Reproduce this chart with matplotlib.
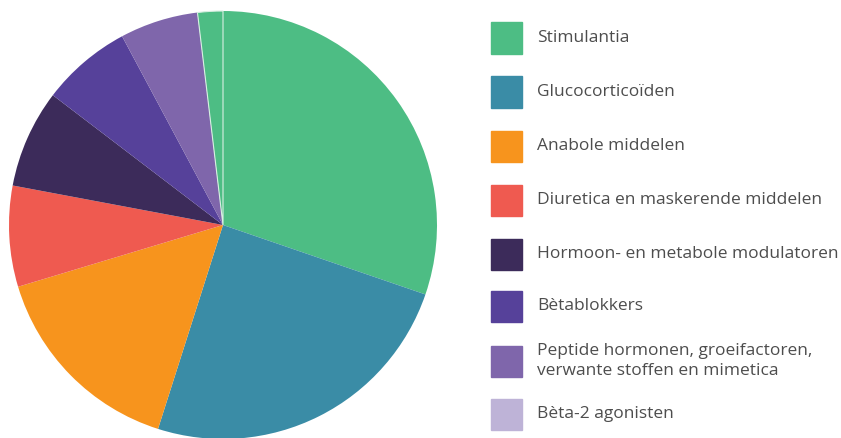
import matplotlib.pyplot as plt
from matplotlib.patches import Rectangle

categories = [
    "Stimulantia",
    "Glucocorticoïden",
    "Anabole middelen",
    "Diuretica en maskerende middelen",
    "Hormoon- en metabole modulatoren",
    "Bètablokkers",
    "Peptide hormonen, groeifactoren,\nverwante stoffen en mimetica",
    "Bèta-2 agonisten",
]
shares = [30.2, 24.6, 15.4, 7.6, 7.4, 6.8, 5.9, 1.9]
colors = ["#4dbd84", "#3a8ca6", "#f7941d", "#ef5a50",
          "#3c2b5a", "#56419a", "#7f66ab", "#beb3d7"]
# the small last wedge is drawn in green in the original
wedge_colors = colors[:-1] + ["#4dbd84"]

W, H = 841, 438
fig = plt.figure(figsize=(W / 100, H / 100), dpi=100)

cx, cy, r = 223, 225, 214
ax = fig.add_axes([(cx - r) / W, (H - cy - r) / H, 2 * r / W, 2 * r / H])
wedges, _ = ax.pie(shares, colors=wedge_colors, startangle=90,
                   counterclock=False, wedgeprops=dict(linewidth=0))
# thin light seam between the two green wedges
wedges[-1].set_edgecolor("#d8efe2")
wedges[-1].set_linewidth(0.8)
ax.set_xlim(-1, 1)
ax.set_ylim(-1, 1)
ax.set_aspect("equal")

# legend drawn by hand
box_x, box_w = 491, 31
text_x = 537
centers = [38, 92, 146, 200, 254, 306, 361, 414]
for name, col, yc in zip(categories, colors, centers):
    fig.patches.append(Rectangle(((box_x) / W, (H - yc - box_w / 2) / H),
                                 box_w / W, box_w / H, color=col,
                                 transform=fig.transFigure, figure=fig))
    fig.text(text_x / W, (H - yc) / H, name, ha="left", va="center",
             fontsize=12.5, color="#4d4d4d", family="Open Sans",
             linespacing=1.35)

fig.savefig("out.png", dpi=100)
